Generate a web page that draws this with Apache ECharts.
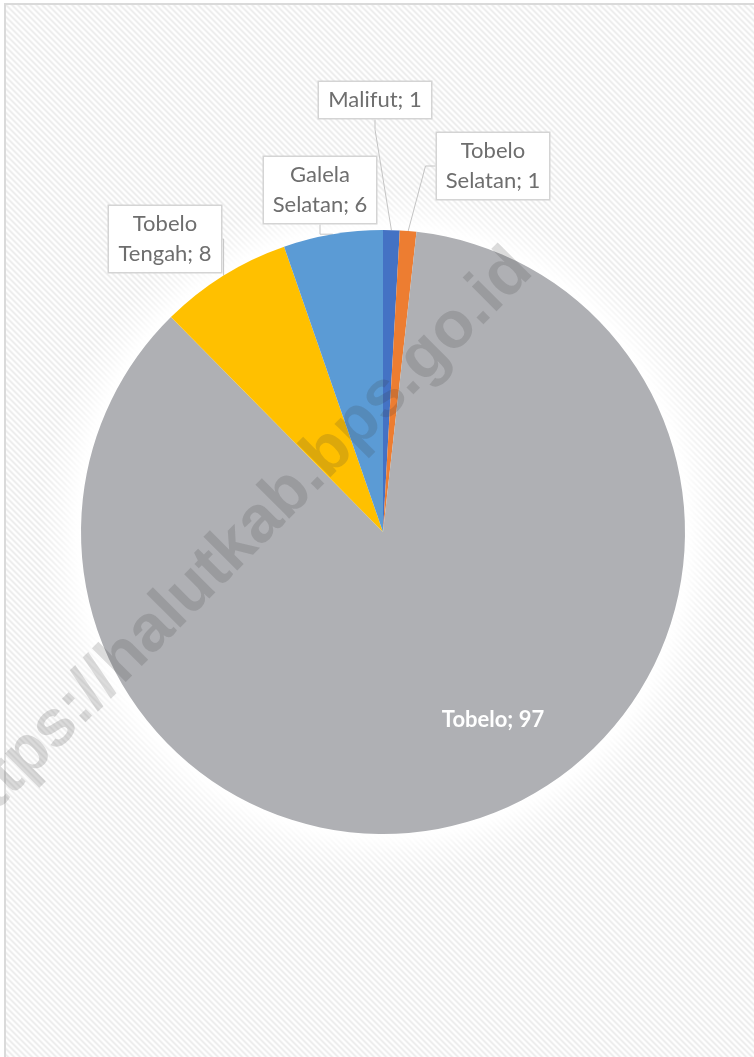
<!DOCTYPE html>
<html><head><meta charset="utf-8">
<script src="https://cdn.jsdelivr.net/npm/echarts@6/dist/echarts.min.js"></script>
<style>
html,body{margin:0;padding:0;width:754px;height:1057px;overflow:hidden;background:#fff;}
#frame{position:absolute;left:4px;top:3px;width:800px;height:1100px;border-left:2px solid #dadada;border-top:2px solid #dadada;background-color:#fff;}
#chart{position:absolute;left:0;top:0;width:754px;height:1057px;}
</style></head><body>
<div id="frame"></div><div id="chart"></div>
<script>
const categories = ['Malifut', 'Tobelo Selatan', 'Tobelo', 'Tobelo Tengah', 'Galela Selatan'];
const values = [1, 1, 97, 8, 6];
const colors = ['#4472C4', '#ED7D31', '#AFB0B4', '#FFC000', '#5B9BD5'];
const watermark = 'https://halutkab.bps.go.id';

// layout: label box centres
const labelPos = [[375, 100], [493, 166], [493, 720], [165, 239], [320, 190]];

// diagonal hatch tile for the background (stripes running top-left to bottom-right)
(function () {
  const c = document.createElement('canvas');
  c.width = 6; c.height = 6;
  const g = c.getContext('2d');
  const shades = ['#ececec', '#f1f1f1', '#fafafa', '#ffffff', '#fcfcfc', '#f3f3f3'];
  for (let y = 0; y < 6; y++) for (let x = 0; x < 6; x++) {
    g.fillStyle = shades[((x - y) % 6 + 6) % 6];
    g.fillRect(x, y, 1, 1);
  }
  const url = c.toDataURL();
  const f = document.getElementById('frame');
  f.style.backgroundImage =
    'radial-gradient(circle at 377px 527px, rgba(255,255,255,1) 301px, rgba(255,255,255,0.9) 308px, rgba(255,255,255,0.45) 322px, rgba(255,255,255,0) 345px), url(' + url + ')';
  f.style.backgroundRepeat = 'no-repeat, repeat';
})();

const chart = echarts.init(document.getElementById('chart'), null, {renderer: 'canvas'});

function fmt(p) {
  const parts = p.name.split(' ');
  if (parts.length > 1) return parts[0] + '\n' + parts.slice(1).join(' ') + '; ' + p.value;
  return p.name + '; ' + p.value;
}

const data = categories.map((c, i) => {
  const d = {name: c, value: values[i], itemStyle: {color: colors[i]}};
  if (c === 'Tobelo') {
    d.label = {position: 'inside', color: '#ffffff', fontWeight: 'bold', fontSize: 22,
      backgroundColor: 'transparent', borderWidth: 0, padding: 0, width: 180, overflow: 'none'};
    d.labelLine = {show: false};
  }
  return d;
});

chart.setOption({
  animation: false,
  backgroundColor: 'transparent',
  series: [
    {
      type: 'pie', silent: true, center: [383, 532], radius: 302, startAngle: 90, clockwise: true,
      avoidLabelOverlap: false,
      itemStyle: {borderWidth: 0},
      label: {
        show: true, position: 'outside', formatter: fmt,
        fontFamily: 'Lato', fontSize: 22, color: '#6e6e6e', lineHeight: 30,
        backgroundColor: '#ffffff', borderColor: '#d4d4d4', borderWidth: 1.5,
        padding: [3, 7], width: 98, align: 'center'
      },
      labelLine: {show: true, length: 10, length2: 10, lineStyle: {color: '#c4c4c4', width: 1}},
      labelLayout: function (params) {
        const p = labelPos[params.dataIndex];
        return {x: p[0], y: p[1], align: 'center', verticalAlign: 'middle'};
      },
      data: data
    }
  ],
  graphic: [{
    type: 'text', x: 238, y: 544, rotation: Math.PI / 4, z: 100, silent: true,
    style: {text: watermark, font: 'bold 66px "Liberation Sans"', fill: 'rgba(60,60,60,0.18)',
      align: 'center', verticalAlign: 'middle'}
  }]
});
</script>
</body></html>
